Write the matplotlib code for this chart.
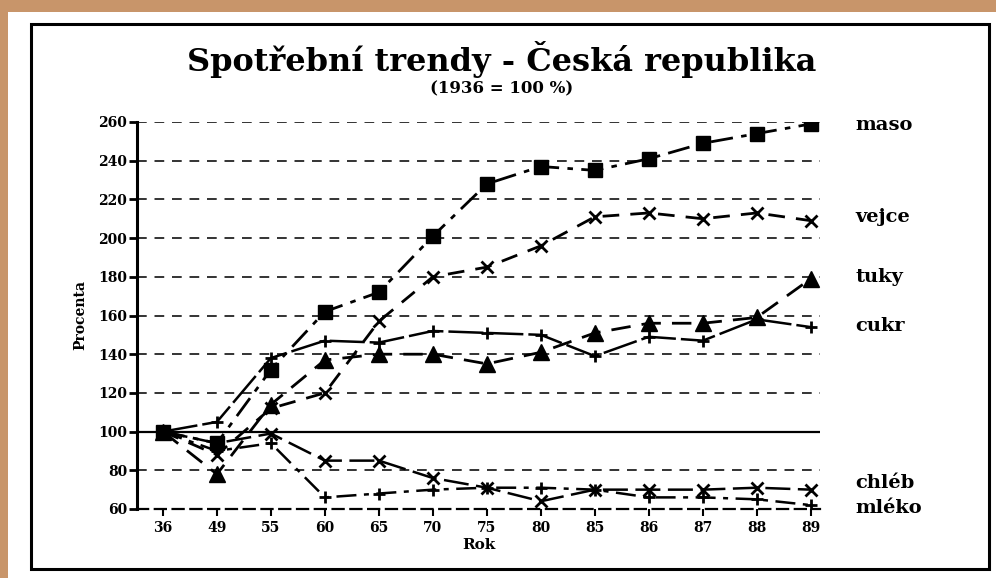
import numpy as np
import matplotlib.pyplot as plt
from matplotlib.patches import Rectangle

# data (1936 = 100 %)
years = ['36', '49', '55', '60', '65', '70', '75', '80', '85', '86', '87', '88', '89']
maso = [100, 94, 132, 162, 172, 201, 228, 237, 235, 241, 249, 254, 259]
vejce = [100, 88, 112, 120, 157, 180, 185, 196, 211, 213, 210, 213, 209]
tuky = [100, 78, 114, 137, 140, 140, 135, 141, 151, 156, 156, 159, 179]
cukr = [100, 105, 138, 147, 146, 152, 151, 150, 139, 149, 147, 158, 154]
chleb = [100, 94, 99, 85, 85, 76, 71, 64, 70, 70, 70, 71, 70]
mleko = [100, 90, 94, 66, 68, 70, 71, 71, 70, 66, 66, 65, 62]
yticks = [60, 80, 100, 120, 140, 160, 180, 200, 220, 240, 260]

serif = 'DejaVu Serif'
x = np.arange(len(years))

fig = plt.figure(figsize=(9.96, 5.78), dpi=100, facecolor='#c8956a')
# white paper and black outer frame
bg = fig.add_axes([8/996, 0, 988/996, 566/578])
bg.set_xlim(0, 1)
bg.set_ylim(0, 1)
bg.axis('off')
bg.add_patch(Rectangle((0, 0), 1, 1, facecolor='white', edgecolor='none'))
bg.add_patch(Rectangle((23/988, 9/566), 958/988, 545/566, facecolor='none',
                       edgecolor='black', lw=2.2))
bg.set_zorder(0)

ax = fig.add_axes([137/996, 69/578, 683/996, 387/578])
ax.set_zorder(2)
ax.set_facecolor('none')

for v in yticks[1:]:
    if v == 100:
        ax.axhline(v, color='black', lw=1.6, zorder=1)
    else:
        ax.axhline(v, color='#333333', lw=1.4, ls=(0, (5, 4)), zorder=1)

ax.plot(x, maso, color='black', lw=2, ls=(0, (8, 3, 2, 3)), marker='s', ms=10, zorder=3)
ax.plot(x, vejce, color='black', lw=2, ls=(0, (6, 4)), marker='x', ms=9, mew=2, zorder=3)
ax.plot(x, tuky, color='black', lw=2, ls=(0, (7, 4)), marker='^', ms=12, zorder=3)
ax.plot(x, cukr, color='black', lw=1.8, ls=(0, (14, 2)), marker='+', ms=9, mew=2, zorder=3)
ax.plot(x, chleb, color='black', lw=1.8, ls=(0, (10, 3)), marker='x', ms=9, mew=2, zorder=3)
ax.plot(x, mleko, color='black', lw=1.8, ls=(0, (8, 3, 2, 3)), marker='+', ms=9, mew=2, zorder=3)

ax.set_xlim(-0.48, 12.17)
ax.set_ylim(60, 260)
ax.set_xticks(x)
ax.set_xticklabels(years)
ax.set_yticks(yticks)
for sp in ['top', 'right']:
    ax.spines[sp].set_visible(False)
ax.spines['left'].set_linewidth(2.2)
ax.spines['bottom'].set_linewidth(1.6)
ax.spines['bottom'].set_linestyle((0, (5, 3)))
ax.tick_params(axis='y', length=6, width=2, pad=1)
ax.tick_params(axis='x', length=5, width=1.5, pad=4)
for lab in ax.get_xticklabels() + ax.get_yticklabels():
    lab.set_fontfamily(serif)
    lab.set_fontweight('bold')
    lab.set_fontsize(10)

ax.set_xlabel('Rok', fontfamily=serif, fontweight='bold', fontsize=11, labelpad=2)
ax.set_ylabel('Procenta', fontfamily=serif, fontweight='bold', fontsize=10, labelpad=8)

fig.text(0.504, 1 - 60/578, 'Spotřební trendy - Česká republika', ha='center', va='center',
         fontfamily=serif, fontweight='bold', fontsize=23)
fig.text(0.504, 1 - 89/578, '(1936 = 100 %)', ha='center', va='center',
         fontfamily=serif, fontweight='bold', fontsize=12)

labels = [('maso', 125), ('vejce', 217), ('tuky', 277), ('cukr', 326),
          ('chléb', 483), ('mléko', 508)]
for name, ypix in labels:
    fig.text(855/996, 1 - ypix/578, name, ha='left', va='center',
             fontfamily=serif, fontweight='bold', fontsize=14)

fig.savefig('out.png', dpi=100, facecolor=fig.get_facecolor())
